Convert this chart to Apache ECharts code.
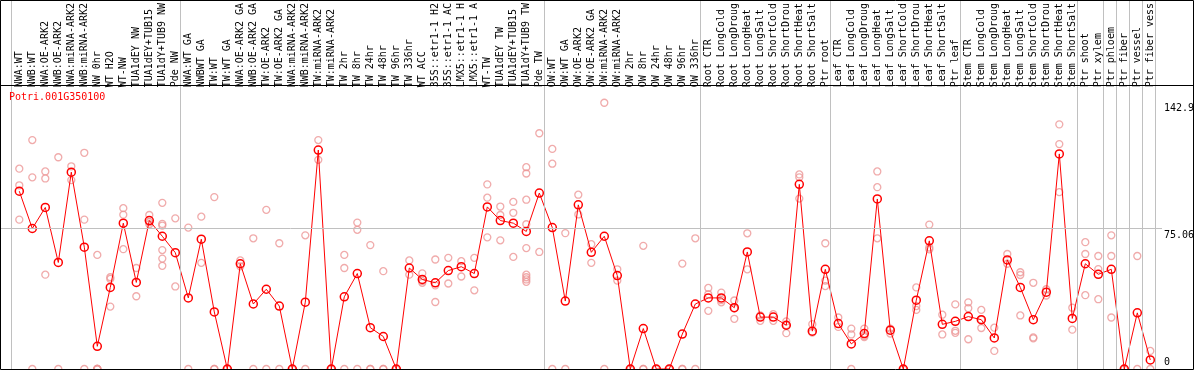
<!DOCTYPE html>
<html>
<head>
<meta charset="utf-8">
<script src="https://cdn.jsdelivr.net/npm/echarts@6/dist/echarts.min.js"></script>
<style>
html,body{margin:0;padding:0;background:#fff;}
#chart{width:1194px;height:370px;}
</style>
</head>
<body>
<div id="chart"></div>
<script>
const title = "Potri.001G350100";
const categories = ["NWA:WT","NWB:WT","NWA:OE-ARK2","NWB:OE-ARK2","NWA:miRNA-ARK2","NWB:miRNA-ARK2","NW 0hr","WT H2O","WT-NW","TUA1dEY NW","TUA1dEY+TUB15","TUA1dY+TUB9 NW","Pde NW","NWA:WT GA","NWBWT GA","TW:WT","TW:WT GA","NWA:OE-ARK2 GA","NWB:OE-ARK2 GA","TW:OE-ARK2","TW:OE-ARK2 GA","NWA:miRNA-ARK2","NWB:miRNA-ARK2","TW:miRNA-ARK2","TW:miRNA-ARK2","TW 2hr","TW 8hr","TW 24hr","TW 48hr","TW 96hr","TW 336hr","WT ACC","35S::etr1-1 H2","35S::etr1-1 AC","LMX5::etr1-1 H","LMX5::etr1-1 A","WT-TW","TUA1dEY TW","TUA1dEY+TUB15","TUA1dY+TUB9 TW","Pde TW","OW:WT","OW:WT GA","OW:OE-ARK2","OW:OE-ARK2 GA","OW:miRNA-ARK2","OW:miRNA-ARK2","OW 2hr","OW 8hr","OW 24hr","OW 48hr","OW 96hr","OW 336hr","Root CTR","Root LongCold","Root LongDroug","Root LongHeat","Root LongSalt","Root ShortCold","Root ShortDrou","Root ShortHeat","Root ShortSalt","Ptr root","Leaf CTR","Leaf LongCold","Leaf LongDroug","Leaf LongHeat","Leaf LongSalt","Leaf ShortCold","Leaf ShortDrou","Leaf ShortHeat","Leaf ShortSalt","Ptr leaf","Stem CTR","Stem LongCold","Stem LongDroug","Stem LongHeat","Stem LongSalt","Stem ShortCold","Stem ShortDrou","Stem ShortHeat","Stem ShortSalt","Ptr shoot","Ptr xylem","Ptr phloem","Ptr fiber","Ptr vessel","Ptr fiber vess"];

const means = [96.3,76.1,87.5,57.7,106.6,66.0,12.3,44.2,79.0,46.9,80.4,71.9,63.0,38.5,
70.3,30.9,0,57.0,35.2,43.2,34.1,0,36.2,118.6,0,39.1,51.7,22.4,17.6,0,
54.7,48.5,46.7,53.3,55.4,51.7,87.8,80.4,79.0,74.5,95.3,76.6,36.8,88.9,
63.2,71.9,50.6,0,21.9,0,0,18.9,35.2,38.5,38.5,33.2,63.4,28.1,28.1,23.7,
100.0,20.5,54.0,24.6,13.6,19.2,92.1,21.0,0,37.3,69.4,24.2,25.8,28.4,
26.7,16.8,59.1,44.2,26.7,41.6,116.5,27.4,57.0,51.3,54.0,0,30.4,4.9];

const replicates = [
[108.5,99.5,80.9],[124.0,103.8,0],[107.0,103.2,51.1],[114.7,0],[109.8,102.3],[117.1,80.9,0],
[61.8,0,0,0,0],[49.7,48.8,33.8],[87.1,83.6,64.9],[54.7,39.4],[83.4,79.5,78.4],
[90.0,78.6,77.7,64.4,59.8,55.9],[81.6,44.7],[76.6,0],
[82.5,57.5],[93.1,0,0],[0,0],[58.8,55.6],[70.8,0],[86.2,0],[68.1,0],[0,0],[72.4,0],
[124.0,113.3],[0,0],[61.8,54.7,0],[79.3,75.4,0],[67.1,0,0],[53.0,0,0],[0,0],
[58.8,51.1],[51.8,47.6,46.7],[59.3,45.3,36.3],[60.2,46.3],[58.4,50.1],[60.2,42.6],
[100.0,92.8,71.3],[88.0,83.4,69.7],[90.5,84.6,60.7],
[109.3,105.9,91.7,78.4,65.5,51.1,49.7,48.5,47.2],[127.7,63.4],[119.2,111.2,0],
[73.6,0],[94.4,83.7],[67.6,57.5],[144.2,0],[54.0,47.9],[0,0],[66.7,0,0],[0,0],[0,0],
[57.1,0,0],[70.8,0],[43.9,40.5,31.5],[41.4,37.3,36.1],[37.1,32.9,27.2],[73.5,54.0],
[29.0,26.1],[29.7,26.1],[25.8,23.7,19.4],[105.4,103.8,92.3],[24.3,19.7],[68.1,47.9,44.9],
[27.9,22.8],[21.9,18.7,0],[21.9,18.0,17.3],[107.0,98.5,70.8],[21.9,19.2],[0,0],
[44.2,34.1,32.0],[78.2,65.8,64.8],[29.4,18.7],[35.0,20.7,19.6],[36.1,32.9,16.1],
[32.0,26.7,22.2],[22.4,9.8],[62.3,57.0],[52.4,50.9,29.0],[46.7,17.1,16.6],[43.2,39.8],
[132.5,121.8,95.8],[33.2,21.3],[68.7,62.3,40.0],[61.2,54.1,37.8],[72.4,61.2,27.9],
[0,0],[61.2,0],[9.8,0]];

const groupBoundaries = [0,13,41,53,63,73,82,84,85,86,87,88];
const yTickLabels = [142.9, 75.06, 0];
const yGridValue = 75.06;
const yMax = 151.5;

const font = "'DejaVu Sans Mono', monospace";
const repPoints = [];
replicates.forEach((arr, i) => arr.forEach(v => repPoints.push([i, v])));

const catW = 13, firstX = 19.3, W = 1194;
const vMin = -firstX / catW, vMax = (W - firstX) / catW;

const chart = echarts.init(document.getElementById('chart'), null, {renderer: 'canvas'});
const frame = [
  {type: 'rect', silent: true, z: 10, shape: {x: 0.5, y: 0.5, width: 1193, height: 369},
   style: {fill: 'none', stroke: '#000', lineWidth: 1}},
  {type: 'line', silent: true, z: 10, shape: {x1: 0, y1: 85.5, x2: 1194, y2: 85.5},
   style: {stroke: '#000', lineWidth: 1}}
];
chart.setOption({
  animation: false,
  backgroundColor: '#fff',
  title: {
    text: title, left: 9, top: 91, padding: 0,
    textStyle: {color: '#ff0000', fontSize: 10, fontWeight: 'normal', fontFamily: font, lineHeight: 12}
  },
  grid: [
    {left: 12.8, right: 37.2, top: 85, bottom: 1},
    {left: 0, right: 0, top: 0, bottom: 0},
    {left: 0, right: 32, top: 85, bottom: 1}
  ],
  xAxis: [
    {type: 'category', gridIndex: 0, position: 'top', data: categories, boundaryGap: true,
     axisLine: {show: false}, axisTick: {show: false}, splitLine: {show: false},
     axisLabel: {interval: 0, rotate: 90, margin: 2, fontSize: 10, fontFamily: font, color: '#000',
       formatter: v => v.padEnd(14, '\u00a0')}},
    {type: 'value', gridIndex: 1, min: vMin, max: vMax, show: false},
    {type: 'value', gridIndex: 2, min: 0, max: 1, show: false}
  ],
  yAxis: [
    {type: 'value', gridIndex: 0, min: 0, max: yMax, show: false},
    {type: 'value', gridIndex: 1, min: 0, max: 1, show: false},
    {type: 'value', gridIndex: 2, min: 0, max: yMax, show: false}
  ],
  series: [
    {type: 'line', xAxisIndex: 1, yAxisIndex: 1, data: [[0, -5]], showSymbol: false,
     lineStyle: {opacity: 0}, silent: true, z: 1,
     markLine: {silent: true, symbol: ['none','none'], label: {show: false},
       lineStyle: {color: '#c0c0c0', width: 1, type: 'solid'},
       data: groupBoundaries.map(b => ({xAxis: b - 0.64}))}},
    {type: 'line', xAxisIndex: 2, yAxisIndex: 2, data: [[0, -5]], showSymbol: false,
     lineStyle: {opacity: 0}, silent: true, z: 1,
     markLine: {silent: true, symbol: ['none','none'], label: {show: false},
       lineStyle: {color: '#c0c0c0', width: 1, type: 'solid'},
       data: [{yAxis: yGridValue}]}},
    {type: 'scatter', xAxisIndex: 0, yAxisIndex: 0, data: repPoints, symbol: 'circle', symbolSize: 7,
     itemStyle: {color: 'rgba(255,255,255,0)', borderColor: 'rgb(236,150,150)', borderWidth: 1.3}, z: 3},
    {type: 'line', xAxisIndex: 0, yAxisIndex: 0, data: means, symbol: 'circle', symbolSize: 8,
     showAllSymbol: true,
     lineStyle: {color: '#ff0000', width: 1},
     itemStyle: {color: 'rgba(255,255,255,0)', borderColor: '#ff0000', borderWidth: 1.5}, z: 4}
  ],
  graphic: frame
});

// y tick labels placed through the library's own y scale
const labelX = chart.convertToPixel({xAxisIndex: 2}, 1) + 2;
const yLabels = yTickLabels.map((v, k) => {
  const py = chart.convertToPixel({yAxisIndex: 2}, v);
  const isBottom = (v === 0);
  return {type: 'text', silent: true, z: 11, x: labelX, y: isBottom ? py - 2 : py + 2,
    style: {text: String(v), fill: '#000', font: "10px 'DejaVu Sans Mono', monospace",
      textAlign: 'left', textVerticalAlign: isBottom ? 'bottom' : 'top'}};
});
chart.setOption({graphic: frame.concat(yLabels)});
</script>
</body>
</html>
